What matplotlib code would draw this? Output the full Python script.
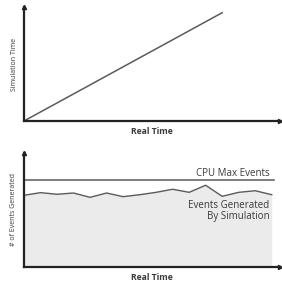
import matplotlib
matplotlib.use('Agg')
import matplotlib.pyplot as plt

plt.rcParams['font.family'] = ['Open Sans', 'DejaVu Sans']

# top panel: simulation time vs real time
simReal = [0, 12]
simTime = [0, 95]

# bottom panel: events generated per step
evReal = list(range(16))
evCount = [62.9, 65.2, 63.8, 64.9, 61.1, 64.9, 61.7, 63.4,
           65.5, 68.2, 65.5, 71.7, 62.0, 65.5, 66.9, 63.4]
cpuMax = 76.3

lineCol = '#5a5a5a'
axCol = '#222222'
txtCol = '#3a3a3a'
W = 282.0

fig = plt.figure(figsize=(2.82, 2.82), dpi=100)
axTop = fig.add_axes([24/W, 1 - 121/W, 256/W, 114/W])
axBot = fig.add_axes([24/W, 1 - 267/W, 256/W, 114/W])

for ax in (axTop, axBot):
    ax.set_xlim(0, 15.5)
    ax.set_ylim(0, 100)
    for s in ('top', 'right'):
        ax.spines[s].set_visible(False)
    for s in ('left', 'bottom'):
        ax.spines[s].set_color(axCol)
        ax.spines[s].set_linewidth(1.6)
    ax.set_xticks([])
    ax.set_yticks([])
    ax.patch.set_alpha(0)
    # arrow tips
    ax.plot([0], [100], marker='^', ms=3, color=axCol, clip_on=False)
    ax.plot([15.5], [0], marker='>', ms=3, color=axCol, clip_on=False)
    ax.set_xlabel('Real Time', fontsize=6.2, fontweight='bold', color=txtCol, labelpad=4)

axTop.plot(simReal, simTime, color=lineCol, lw=1.1)
axTop.set_ylabel('Simulation Time', fontsize=5, color=txtCol, labelpad=4)

axBot.fill_between(evReal, 0, evCount, color='#ebebeb', lw=0)
axBot.plot(evReal, evCount, color=lineCol, lw=1.0)
axBot.axhline(cpuMax, xmin=0, xmax=250/256, color=lineCol, lw=1.1)
axBot.set_ylabel('# of Events Generated', fontsize=5, color=txtCol, labelpad=5)
axBot.text(14.85, cpuMax + 1.0, 'CPU Max Events', fontsize=7,
           color=txtCol, ha='right', va='bottom')
axBot.text(14.85, 59, 'Events Generated\nBy Simulation', fontsize=7,
           color=txtCol, ha='right', va='top', linespacing=1.0)

fig.savefig('out.png', dpi=100)
